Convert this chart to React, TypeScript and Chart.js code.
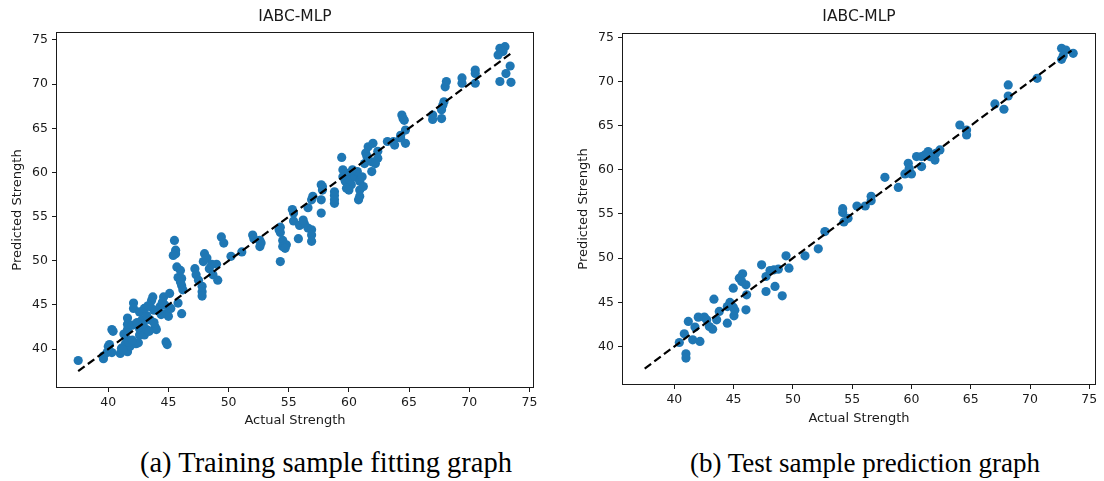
import React, { useEffect, useRef } from 'react';
import { Chart, registerables } from 'chart.js';

Chart.register(...registerables);

// ---------- data ----------
const trainActual = [
  37.5, 39.6, 39.6, 39.9, 40.0, 40.1, 40.3, 40.4, 40.3, 41.0,
  41.1, 41.4, 41.6, 41.8, 41.5, 41.6, 41.6, 41.6, 42.0, 42.1,
  42.1, 42.3, 42.5, 42.6, 42.6, 42.6, 42.8, 43.0, 43.2, 43.2,
  43.5, 43.5, 43.6, 43.7, 43.9, 44.0, 43.8, 44.3, 44.6, 44.7,
  44.8, 45.0, 45.1, 44.8, 44.9, 45.2, 45.8, 46.1, 41.2, 41.7,
  42.0, 42.4, 43.0, 43.3, 43.8, 44.4, 44.5, 41.3, 42.9, 43.4,
  45.5, 45.6, 45.6, 45.4, 45.7, 45.8, 46.0, 46.1, 46.1, 46.2,
  47.2, 47.3, 47.5, 47.8, 47.8, 47.8, 47.9, 48.0, 48.2, 48.4,
  48.7, 49.1, 49.4, 49.6, 50.2, 51.1, 52.0, 52.1, 52.6, 52.6,
  54.3, 54.3, 54.3, 54.5, 54.8, 54.5, 54.7, 46.0, 49.0, 48.6,
  55.3, 55.4, 55.4, 55.8, 55.9, 56.3, 56.6, 56.9, 56.9, 56.9,
  56.6, 56.9, 57.0, 56.2, 57.7, 57.7, 57.8, 57.7, 57.8, 58.8,
  58.8, 58.8, 59.4, 59.5, 59.5, 59.7, 59.95, 60.1, 60.2, 60.5,
  60.7, 60.9, 60.9, 60.9, 60.8, 61.1, 59.8, 60.3, 61.2, 60.0,
  61.6, 62.0, 61.4, 61.5, 62.4, 62.4, 61.9, 61.9, 61.3, 62.2,
  63.2, 63.7, 63.8, 64.3, 64.4, 64.5, 64.6, 64.7, 64.7, 64.3,
  66.96, 66.96, 67.7, 67.7, 67.9, 68.0, 68.1, 69.4, 69.4, 70.5,
  70.5, 70.5, 72.55, 72.97, 72.8, 72.4, 73.4, 73.05, 72.55, 73.47,
  67.8, 58.8, 54.2, 52.7,
];
const trainPredicted = [
  38.7, 38.9, 39.2, 39.6, 40.3, 40.5, 42.2, 42.0, 39.6, 39.5,
  40.1, 40.5, 39.7, 40.3, 41.2, 42.2, 43.5, 42.8, 42.7, 45.2,
  44.6, 40.6, 40.7, 41.6, 42.3, 44.2, 43.3, 41.6, 42.2, 43.8,
  43.3, 44.8, 45.5, 45.9, 42.5, 42.2, 44.4, 44.8, 45.9, 45.0,
  44.0, 43.7, 46.3, 40.8, 40.5, 44.6, 45.2, 44.0, 39.9, 40.8,
  41.0, 43.0, 44.6, 44.9, 43.0, 43.9, 45.3, 41.7, 42.8, 42.0,
  52.3, 51.2, 50.8, 50.6, 49.3, 48.1, 48.9, 48.0, 47.2, 46.7,
  49.1, 48.4, 47.8, 47.1, 46.5, 46.0, 49.9, 50.8, 50.3, 49.1,
  48.4, 47.8, 52.7, 52.0, 50.5, 51.0, 52.9, 52.5, 52.3, 51.6,
  53.8, 53.2, 49.9, 52.3, 51.8, 51.6, 51.4, 47.6, 49.6, 49.6,
  55.8, 54.5, 55.4, 52.5, 54.0, 54.2, 53.7, 53.5, 52.9, 52.2,
  56.0, 56.9, 57.3, 54.6, 55.4, 56.9, 58.4, 58.6, 58.0, 57.8,
  57.4, 56.5, 61.7, 60.3, 59.5, 59.0, 59.9, 59.1, 58.6, 59.5,
  60.1, 59.0, 58.0, 57.3, 56.9, 59.5, 58.2, 60.3, 58.4, 58.0,
  62.9, 63.3, 62.2, 61.8, 62.4, 61.6, 61.2, 60.1, 61.0, 61.0,
  63.5, 63.5, 63.1, 63.9, 66.5, 66.1, 65.9, 64.8, 63.3, 64.2,
  66.5, 66.0, 66.1, 67.1, 68.0, 69.7, 70.3, 70.7, 70.1, 71.6,
  71.2, 70.1, 74.05, 74.24, 73.7, 73.3, 72.05, 71.2, 70.3, 70.2,
  67.6, 56.9, 53.5, 52.0,
];

const testActual = [
  40.42, 40.84, 40.98, 40.98, 41.18, 41.55, 41.74, 42.02, 42.16, 42.53,
  42.73, 42.95, 43.23, 43.34, 43.57, 43.79, 44.47, 44.47, 44.69, 44.97,
  45.03, 45.1, 44.97, 45.48, 45.76, 45.68, 46.04, 46.1, 46.04, 47.36,
  47.73, 47.73, 48.07, 48.4, 48.49, 48.77, 49.1, 49.42, 49.67, 51.02,
  52.14, 52.7, 54.2, 54.2, 54.3, 54.65, 55.4, 56.1, 56.6, 56.6,
  57.76, 58.89, 59.45, 59.73, 59.81, 60.0, 60.43, 60.85, 60.85, 61.41,
  61.56, 61.98, 62.06, 62.4, 61.13, 64.08, 64.65, 64.65, 67.04, 67.8,
  68.16, 68.16, 70.6, 72.66, 73.02, 73.64, 72.66, 72.8,
];
const testPredicted = [
  40.45, 41.43, 39.17, 38.68, 42.83, 40.75, 42.19, 43.32, 40.57, 43.32,
  43.02, 42.26, 41.96, 45.35, 43.02, 43.96, 42.64, 44.52, 44.98, 44.45,
  43.47, 44.1, 46.6, 47.73, 48.22, 47.35, 46.98, 45.84, 44.15, 49.24,
  47.92, 46.22, 48.6, 48.67, 46.79, 48.75, 45.73, 50.26, 48.86, 50.26,
  51.05, 53.0, 55.6, 55.15, 54.1, 54.5, 55.9, 55.9, 56.5, 57.0,
  59.15, 58.0, 59.53, 60.74, 60.17, 59.53, 61.49, 60.36, 61.49, 62.06,
  61.49, 61.1, 61.87, 62.25, 61.68, 65.07, 64.5, 63.94, 67.45, 66.85,
  68.35, 69.6, 70.35, 73.75, 73.56, 73.18, 72.5, 72.9,
];

const axisTicks = [40, 45, 50, 55, 60, 65, 70, 75];
const diagonalRange = [37.5, 73.5];
const chartTitle = 'IABC-MLP';
const xAxisLabel = 'Actual Strength';
const yAxisLabel = 'Predicted Strength';
const captions = ['(a) Training sample fitting graph', '(b) Test sample prediction graph'];

// ---------- layout ----------
type PanelLayout = {
  left: number; width: number; height: number;
  yAxisWidth: number; xAxisHeight: number; padRight: number;
  titlePadBottom: number; xTitlePad: number; yTitlePad: number;
  xMin: number; xMax: number; yMin: number; yMax: number;
};

const leftPanel: PanelLayout = {
  left: 0, width: 560, height: 440,
  yAxisWidth: 57, xAxisHeight: 53, padRight: 27,
  titlePadBottom: 6.4, xTitlePad: 11.7, yTitlePad: 10.2,
  xMin: 35.74, xMax: 75.3, yMin: 35.7, yMax: 75.79,
};
const rightPanel: PanelLayout = {
  left: 560, width: 544, height: 440,
  yAxisWidth: 63, xAxisHeight: 56, padRight: 9,
  titlePadBottom: 7.4, xTitlePad: 13.2, yTitlePad: 16.2,
  xMin: 35.67, xMax: 75.48, yMin: 35.75, yMax: 75.37,
};

const INK = '#1a1a1a';
const FONT = 'DejaVu Sans';

function ScatterPanel({ actual, predicted, layout }: { actual: number[]; predicted: number[]; layout: PanelLayout }) {
  const ref = useRef<HTMLCanvasElement>(null);

  useEffect(() => {
    if (!ref.current) return;
    const framePlugin = {
      id: 'frame',
      afterDraw(chart: any) {
        const { ctx, chartArea } = chart;
        const l = Math.round(chartArea.left) - 0.5;
        const t = Math.round(chartArea.top) - 0.5;
        const r = Math.round(chartArea.right) + 0.5;
        const b = Math.round(chartArea.bottom) + 0.5;
        ctx.save();
        ctx.strokeStyle = INK;
        ctx.lineWidth = 1;
        ctx.strokeRect(l, t, r - l, b - t);
        ctx.restore();
      },
    };

    const setTicks = (scale: any) => {
      scale.ticks = axisTicks.map((v) => ({ value: v }));
    };

    const chart = new Chart(ref.current, {
      type: 'scatter',
      data: {
        datasets: [
          {
            type: 'line',
            data: diagonalRange.map((v) => ({ x: v, y: v })),
            borderColor: '#000',
            borderWidth: 2.2,
            borderDash: [8, 4],
            pointRadius: 0,
            fill: false,
            order: 0,
          } as any,
          {
            data: actual.map((x, i) => ({ x, y: predicted[i] })),
            backgroundColor: '#1f77b4',
            borderColor: '#1f77b4',
            borderWidth: 0,
            pointRadius: 4.6,
            order: 1,
          },
        ],
      },
      options: {
        responsive: false,
        animation: false,
        events: [],
        layout: { padding: { left: 0, top: 0, bottom: 0, right: layout.padRight } },
        plugins: {
          legend: { display: false },
          tooltip: { enabled: false },
          title: {
            display: true,
            text: chartTitle,
            fullSize: false,
            color: INK,
            font: { family: FONT, size: 15.5, weight: 'normal' as any },
            padding: { top: 8, bottom: layout.titlePadBottom },
          },
        },
        scales: {
          x: {
            type: 'linear',
            min: layout.xMin,
            max: layout.xMax,
            afterBuildTicks: setTicks,
            afterFit: (scale: any) => { scale.height = layout.xAxisHeight; },
            border: { display: false },
            grid: { drawOnChartArea: false, drawTicks: true, tickLength: 5, color: INK, lineWidth: 1 },
            ticks: { color: INK, font: { family: FONT, size: 12.5 }, padding: 3.5, maxRotation: 0 },
            title: {
              display: true,
              text: xAxisLabel,
              color: INK,
              font: { family: FONT, size: 13 },
              padding: { top: 0, bottom: layout.xTitlePad },
            },
          },
          y: {
            type: 'linear',
            min: layout.yMin,
            max: layout.yMax,
            afterBuildTicks: setTicks,
            afterFit: (scale: any) => { scale.width = layout.yAxisWidth; },
            border: { display: false },
            grid: { drawOnChartArea: false, drawTicks: true, tickLength: 5, color: INK, lineWidth: 1 },
            ticks: { color: INK, font: { family: FONT, size: 12.5 }, padding: 4 },
            title: {
              display: true,
              text: yAxisLabel,
              color: INK,
              font: { family: FONT, size: 13 },
              padding: { top: layout.yTitlePad, bottom: 0 },
            },
          },
        },
      },
      plugins: [framePlugin],
    } as any);

    return () => chart.destroy();
  }, [actual, predicted, layout]);

  return (
    <canvas
      ref={ref}
      width={layout.width}
      height={layout.height}
      style={{ position: 'absolute', left: layout.left, top: 0, width: layout.width, height: layout.height, display: 'block' }}
    />
  );
}

const captionStyle = (cx: number, size: number): React.CSSProperties => ({
  position: 'absolute',
  left: cx,
  top: 463,
  transform: 'translate(-50%, -50%)',
  whiteSpace: 'nowrap',
  fontFamily: '"Liberation Serif", "Times New Roman", serif',
  fontSize: size,
  lineHeight: 1,
  color: '#000',
});

export default function App() {
  return (
    <div style={{ position: 'absolute', left: 0, top: 0, width: 1104, height: 481, background: '#fff', overflow: 'hidden' }}>
      <ScatterPanel actual={trainActual} predicted={trainPredicted} layout={leftPanel} />
      <ScatterPanel actual={testActual} predicted={testPredicted} layout={rightPanel} />
      <div style={captionStyle(326, 28.5)}>{captions[0]}</div>
      <div style={captionStyle(865, 27)}>{captions[1]}</div>
    </div>
  );
}
